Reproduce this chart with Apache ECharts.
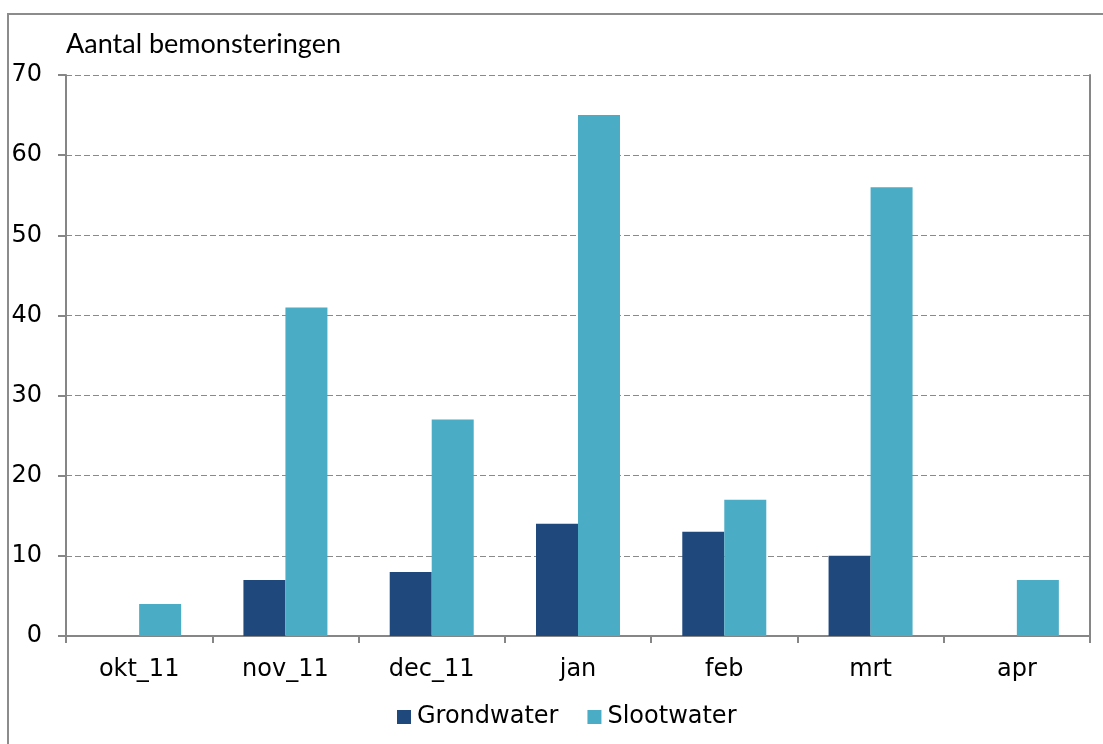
<!DOCTYPE html>
<html>
<head>
<meta charset="utf-8">
<script src="https://cdn.jsdelivr.net/npm/echarts@6/dist/echarts.min.js"></script>
<style>
  html, body { margin: 0; padding: 0; background: #fff; }
  #chart { width: 1103px; height: 744px; }
</style>
</head>
<body>
<div id="chart"></div>
<script>
var months = ["okt_11", "nov_11", "dec_11", "jan", "feb", "mrt", "apr"];
var grondwater = [0, 7, 8, 14, 13, 10, 0];
var slootwater = [4, 41, 27, 65, 17, 56, 7];
var yTicks = { min: 0, max: 70, interval: 10 };

var myChart = echarts.init(document.getElementById("chart"));
var axisGrey = "#868686";
var labelFont = { fontFamily: "DejaVu Sans", fontSize: 24, color: "#000" };

var option = {
  animation: false,
  graphic: [{
    type: "rect",
    shape: { x: 8, y: 14, width: 1110, height: 740 },
    style: { fill: "none", stroke: "#8c8c8c", lineWidth: 2 },
    silent: true
  }, {
    type: "text",
    x: 66, y: 44,
    style: { text: "Aantal bemonsteringen", fontFamily: "Lato", fontSize: 27, fill: "#000", verticalAlign: "middle" }
  }],
  legend: {
    top: 700,
    left: 392,
    itemWidth: 14, itemHeight: 14, itemGap: 29,
    icon: "rect",
    textStyle: { fontFamily: "DejaVu Sans", fontSize: 24, color: "#000", padding: [0, 0, 0, 1] },
    data: ["Grondwater", "Slootwater"]
  },
  grid: { left: 66, right: 13, top: 75, bottom: 108, containLabel: false },
  xAxis: {
    type: "category",
    data: months,
    axisLine: { lineStyle: { color: axisGrey, width: 2 } },
    axisTick: { show: true, length: 7, lineStyle: { color: axisGrey, width: 2 } },
    axisLabel: Object.assign({ margin: 22 }, labelFont),
    splitLine: { show: false }
  },
  yAxis: [{
    type: "value",
    min: yTicks.min, max: yTicks.max, interval: yTicks.interval,
    axisLine: { show: true, lineStyle: { color: axisGrey, width: 2 } },
    axisTick: { show: true, length: 8, lineStyle: { color: axisGrey, width: 2 } },
    axisLabel: Object.assign({ margin: 24 }, labelFont),
    splitLine: { show: true, lineStyle: { color: "#8a8a8a", type: [6, 3], width: 1 } }
  }, {
    type: "value",
    position: "right",
    min: yTicks.min, max: yTicks.max, interval: yTicks.interval,
    axisLine: { show: true, lineStyle: { color: axisGrey, width: 2 } },
    axisTick: { show: false },
    axisLabel: { show: false },
    splitLine: { show: false }
  }],
  series: [{
    name: "Grondwater",
    type: "bar",
    data: grondwater,
    barWidth: 42,
    barGap: "0%",
    itemStyle: { color: "#1F497D" }
  }, {
    name: "Slootwater",
    type: "bar",
    data: slootwater,
    barWidth: 42,
    itemStyle: { color: "#4BACC6" }
  }]
};
myChart.setOption(option);
window.addEventListener("resize", function() {
  myChart.resize();
});
</script>
</body>
</html>
